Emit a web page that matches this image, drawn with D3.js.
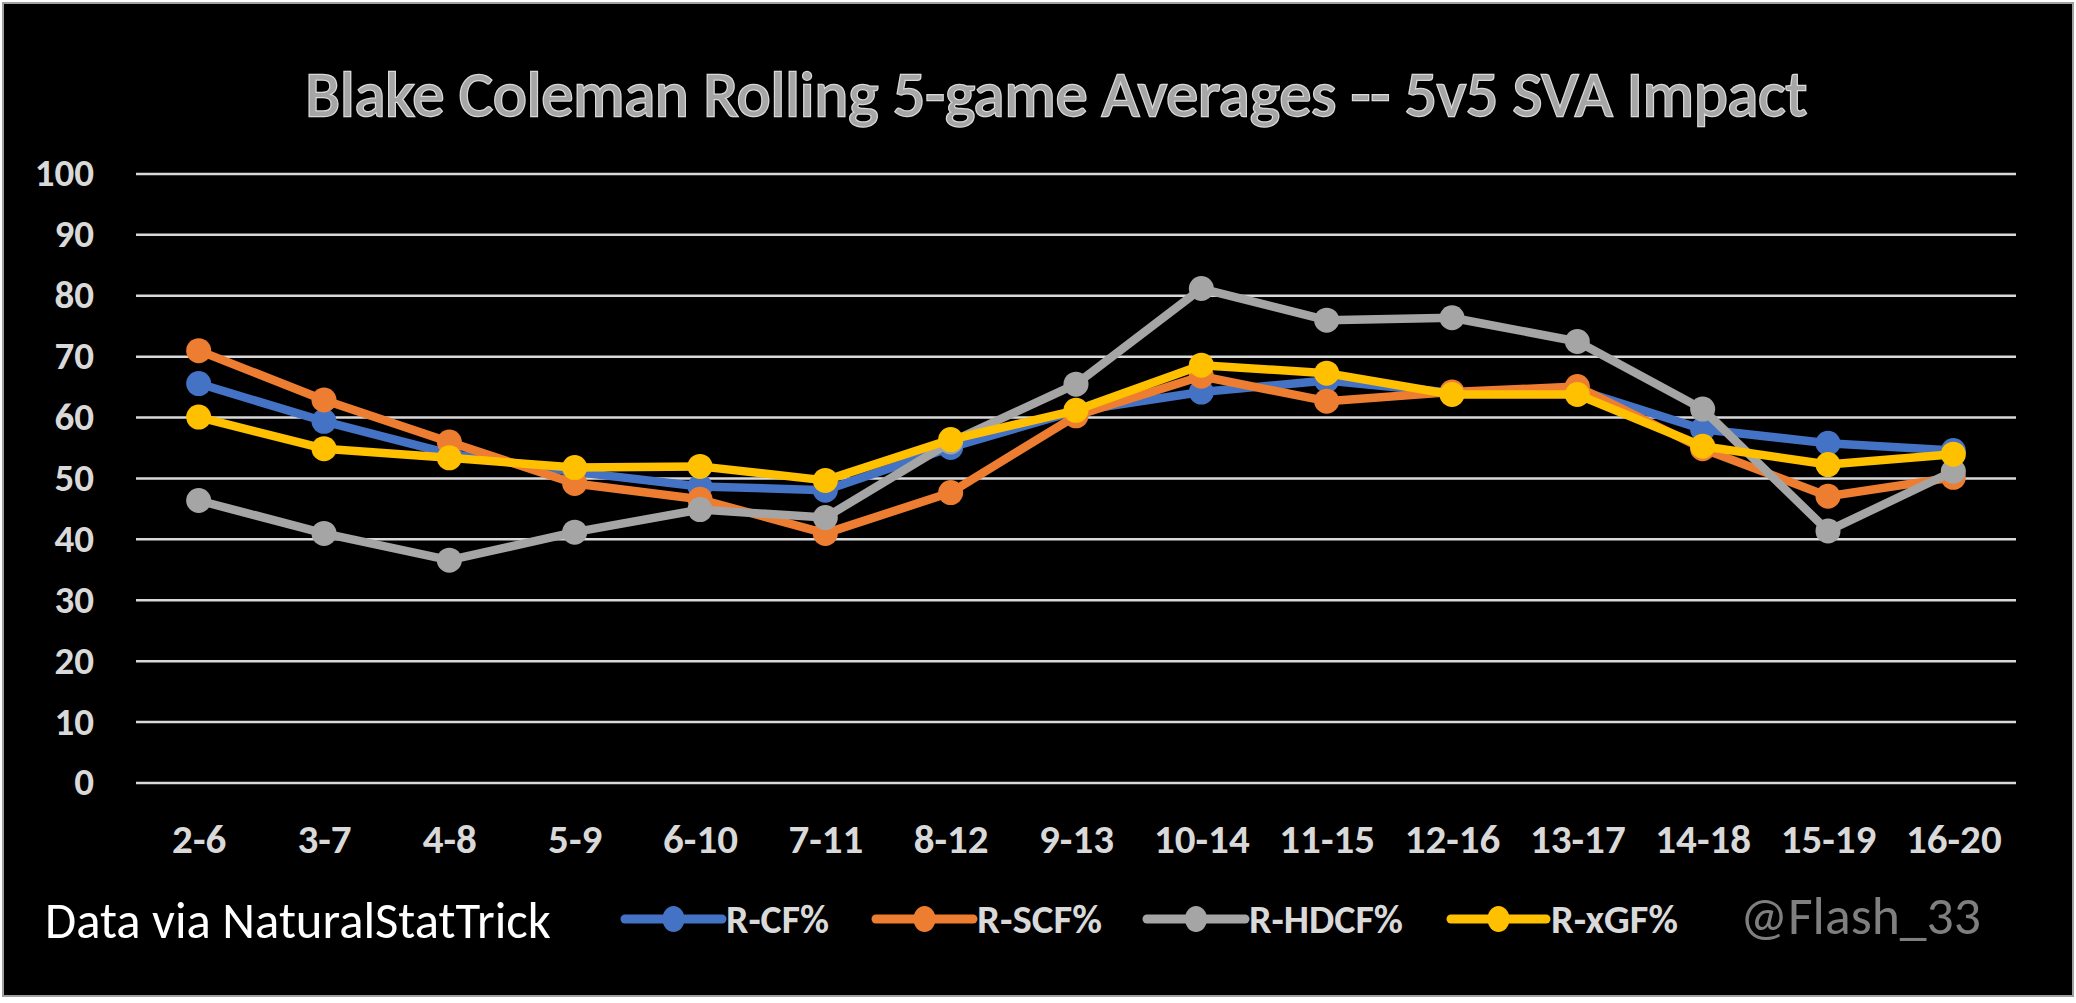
<!DOCTYPE html>
<html>
<head>
<meta charset="utf-8">
<script src="https://cdn.jsdelivr.net/npm/d3@7"></script>
<style>
  html, body { margin: 0; padding: 0; background: #ffffff; }
  svg { display: block; }
  text { font-family: Carlito, Calibri, Lato, "Open Sans", sans-serif; }
</style>
</head>
<body>
<svg id="chart" width="2076" height="1003"></svg>
<script>
// ---- data ----
const categories = ["2-6","3-7","4-8","5-9","6-10","7-11","8-12","9-13","10-14","11-15","12-16","13-17","14-18","15-19","16-20"];
const rCF   = [65.5, 59.3, 54.0, 51.0, 48.6, 48.0, 55.0, 61.0, 64.1, 66.0, 64.0, 64.5, 58.0, 55.7, 54.5];
const rSCF  = [70.9, 62.8, 55.9, 49.1, 46.5, 40.9, 47.6, 60.2, 66.7, 62.6, 64.1, 65.0, 54.8, 47.0, 50.1];
const rHDCF = [46.3, 40.9, 36.5, 41.1, 44.8, 43.5, 55.9, 65.4, 81.1, 75.9, 76.3, 72.4, 61.3, 41.3, 51.1];
const rxGF  = [60.0, 54.8, 53.3, 51.7, 51.9, 49.6, 56.3, 61.1, 68.5, 67.2, 63.7, 63.7, 55.2, 52.2, 53.9];
const seriesNames = ["R-CF%", "R-SCF%", "R-HDCF%", "R-xGF%"];
const seriesValues = [rCF, rSCF, rHDCF, rxGF];
const yTicks = [0,10,20,30,40,50,60,70,80,90,100];
const titleText = "Blake Coleman Rolling 5-game Averages -- 5v5 SVA Impact";
const sourceText = "Data via NaturalStatTrick";
const creditText = "@Flash_33";

// ---- styles ----
const colors = ["#4472c4", "#ed7d31", "#a5a5a5", "#ffc000"];
const W = 2076, H = 1003;
const svg = d3.select("#chart");

svg.append("rect").attr("x", 3).attr("y", 3).attr("width", W - 6).attr("height", H - 10)
  .attr("fill", "#000").attr("stroke", "#a0a0a0").attr("stroke-width", 2);

const x = d3.scalePoint().domain(categories).range([136, 2016]).padding(0.5);
const y = d3.scaleLinear().domain([0, 100]).range([782.5, 173.4]);

function fit(sel, target) {
  const base = parseFloat(sel.attr("font-size"));
  const w = sel.node().getComputedTextLength();
  if (w > 0) sel.attr("font-size", base * target / w);
}

// title
const title = svg.append("text")
  .attr("x", 1056).attr("y", 116)
  .attr("text-anchor", "middle")
  .attr("font-size", 60)
  .attr("fill", "#a6a6a6")
  .attr("stroke", "#d9d9d9").attr("stroke-width", 2.5)
  .style("paint-order", "stroke")
  .text(titleText);
fit(title, 1502);

// gridlines + y labels
const yAxis = d3.axisLeft(y).tickValues(yTicks).tickSize(-(2016 - 136)).tickPadding(42);
const gy = svg.append("g").attr("transform", "translate(136,0)").call(yAxis);
gy.select(".domain").remove();
gy.selectAll(".tick line").attr("stroke", "#d9d9d9").attr("stroke-width", 2.5);
gy.selectAll(".tick text")
  .attr("fill", "#d9d9d9").attr("font-size", 39).attr("font-weight", "bold")
  .attr("font-family", "Carlito, Calibri, Lato, sans-serif");

// x axis labels
const xAxis = d3.axisBottom(x).tickSize(0).tickPadding(0);
const gx = svg.append("g").attr("transform", "translate(0,839)").call(xAxis);
gx.select(".domain").remove();
gx.selectAll(".tick text")
  .attr("dy", "0.35em")
  .attr("fill", "#d9d9d9").attr("font-size", 41).attr("font-weight", "bold")
  .attr("font-family", "Carlito, Calibri, Lato, sans-serif");

// series
const line = d3.line().x((d, i) => x(categories[i])).y(d => y(d));
seriesValues.forEach((vals, si) => {
  const g = svg.append("g");
  g.append("path").datum(vals)
    .attr("d", line)
    .attr("fill", "none")
    .attr("stroke", colors[si])
    .attr("stroke-width", 8.5)
    .attr("stroke-linejoin", "round");
  g.selectAll("circle").data(vals).join("circle")
    .attr("cx", (d, i) => x(categories[i]))
    .attr("cy", d => y(d))
    .attr("r", 12.5)
    .attr("fill", colors[si]);
});

// footer
const src = svg.append("text")
  .attr("x", 45).attr("y", 938)
  .attr("font-size", 40).attr("fill", "#ffffff")
  .text(sourceText);
fit(src, 506);

const legendItems = [
  {lx0: 625, lx1: 722, tx: 726, tw: 103},
  {lx0: 876, lx1: 973, tx: 977, tw: 125},
  {lx0: 1147, lx1: 1245, tx: 1249, tw: 154},
  {lx0: 1451, lx1: 1546, tx: 1551, tw: 127}
];
const ly = 919;
seriesNames.forEach((name, i) => {
  const it = legendItems[i];
  svg.append("line")
    .attr("x1", it.lx0).attr("x2", it.lx1).attr("y1", ly).attr("y2", ly)
    .attr("stroke", colors[i]).attr("stroke-width", 9).attr("stroke-linecap", "round");
  svg.append("ellipse")
    .attr("cx", (it.lx0 + it.lx1) / 2).attr("cy", ly).attr("rx", 11).attr("ry", 13)
    .attr("fill", colors[i]);
  const t = svg.append("text")
    .attr("x", it.tx).attr("y", ly).attr("dy", "0.35em")
    .attr("font-size", 34).attr("font-weight", "bold").attr("fill", "#d9d9d9")
    .text(name);
  fit(t, it.tw);
});

const credit = svg.append("text")
  .attr("x", 1740).attr("y", 934)
  .attr("font-size", 46).attr("fill", "#7f7f7f")
  .text(creditText);
fit(credit, 241);
</script>
</body>
</html>
